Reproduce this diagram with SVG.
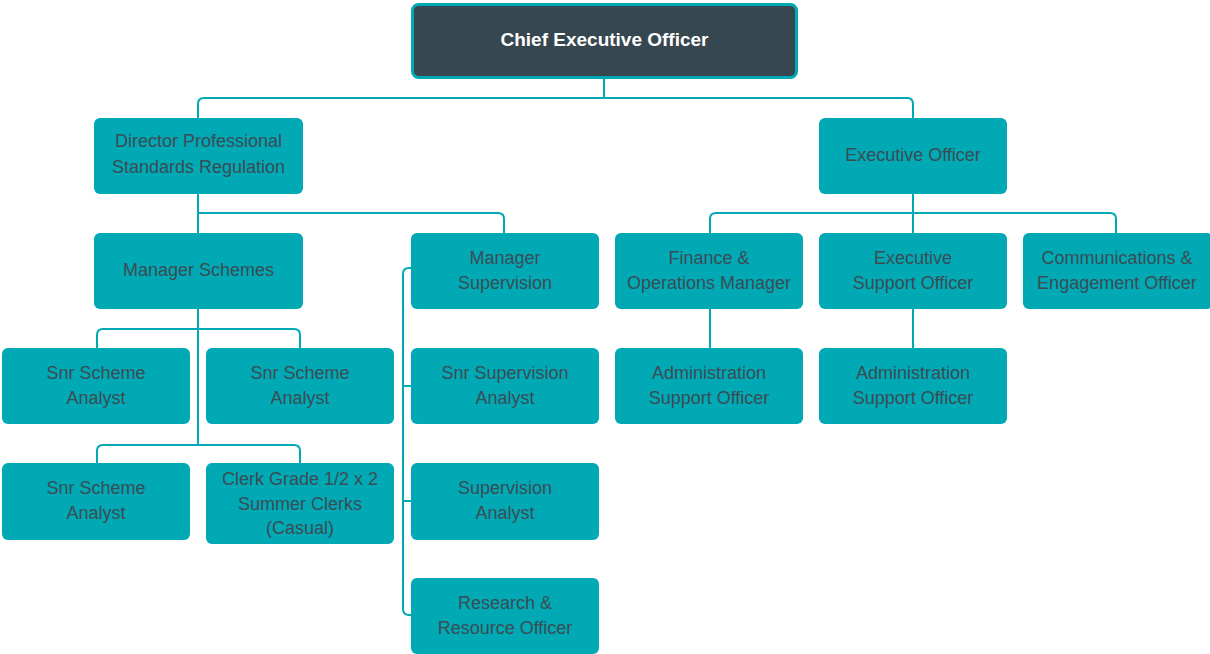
<svg xmlns="http://www.w3.org/2000/svg" width="1210" height="654" viewBox="0 0 1210 654">
<style>
.box{fill:#00a9b4}
.ceo{fill:#37474f;stroke:#00a9b4;stroke-width:3}
.t{font-family:"Liberation Sans",Arial,sans-serif;font-size:18px;fill:#3b4c54;text-anchor:middle}
.tc{font-family:"Liberation Sans",Arial,sans-serif;font-size:19px;font-weight:bold;fill:#ffffff;text-anchor:middle}
.c{fill:none;stroke:#00a9b4;stroke-width:2}
</style>
<rect width="1210" height="654" fill="#ffffff"/>
<g id="connectors">
<path class="c" d="M604,79 V98"/>
<path class="c" d="M198,118 V104 Q198,98 204,98 H907 Q913,98 913,104 V118"/>
<path class="c" d="M198,194 V233"/>
<path class="c" d="M198,213 H498 Q504,213 504,219 V233"/>
<path class="c" d="M913,194 V233"/>
<path class="c" d="M710,233 V219 Q710,213 716,213 H1110 Q1116,213 1116,219 V233"/>
<path class="c" d="M198,309 V445"/>
<path class="c" d="M97,348 V335 Q97,329 103,329 H294 Q300,329 300,335 V348"/>
<path class="c" d="M97,463 V451 Q97,445 103,445 H294 Q300,445 300,451 V463"/>
<path class="c" d="M411,268 H409 Q403,268 403,274 V609 Q403,615 409,615 H411"/>
<path class="c" d="M403,386 H411 M403,501 H411"/>
<path class="c" d="M710,309 V348"/>
<path class="c" d="M913,309 V348"/>
</g>
<g id="ceo"><rect class="ceo" x="412.5" y="4.5" width="384" height="73" rx="6"/><text class="tc" x="604.5" y="46">Chief Executive Officer</text></g>
<g id="director"><rect class="box" x="94" y="118" width="209" height="76" rx="6"/><text class="t" x="198.5" y="147">Director Professional</text><text class="t" x="198.5" y="173">Standards Regulation</text></g>
<g id="exec-officer"><rect class="box" x="819" y="118" width="188" height="76" rx="6"/><text class="t" x="913" y="161">Executive Officer</text></g>
<g id="manager-schemes"><rect class="box" x="94" y="233" width="209" height="76" rx="6"/><text class="t" x="198.5" y="276">Manager Schemes</text></g>
<g id="manager-supervision"><rect class="box" x="411" y="233" width="188" height="76" rx="6"/><text class="t" x="505" y="264">Manager</text><text class="t" x="505" y="289">Supervision</text></g>
<g id="finance"><rect class="box" x="615" y="233" width="188" height="76" rx="6"/><text class="t" x="709" y="264">Finance &amp;</text><text class="t" x="709" y="289">Operations Manager</text></g>
<g id="exec-support"><rect class="box" x="819" y="233" width="188" height="76" rx="6"/><text class="t" x="913" y="264">Executive</text><text class="t" x="913" y="289">Support Officer</text></g>
<g id="comms"><rect class="box" x="1023" y="233" width="190" height="76" rx="6"/><text class="t" x="1117" y="264">Communications &amp;</text><text class="t" x="1117" y="289">Engagement Officer</text></g>
<g id="snr-scheme-1"><rect class="box" x="2" y="348" width="188" height="76" rx="6"/><text class="t" x="96" y="379">Snr Scheme</text><text class="t" x="96" y="404">Analyst</text></g>
<g id="snr-scheme-2"><rect class="box" x="206" y="348" width="188" height="76" rx="6"/><text class="t" x="300" y="379">Snr Scheme</text><text class="t" x="300" y="404">Analyst</text></g>
<g id="snr-supervision"><rect class="box" x="411" y="348" width="188" height="76" rx="6"/><text class="t" x="505" y="379">Snr Supervision</text><text class="t" x="505" y="404">Analyst</text></g>
<g id="admin-1"><rect class="box" x="615" y="348" width="188" height="76" rx="6"/><text class="t" x="709" y="379">Administration</text><text class="t" x="709" y="404">Support Officer</text></g>
<g id="admin-2"><rect class="box" x="819" y="348" width="188" height="76" rx="6"/><text class="t" x="913" y="379">Administration</text><text class="t" x="913" y="404">Support Officer</text></g>
<g id="snr-scheme-3"><rect class="box" x="2" y="463" width="188" height="77" rx="6"/><text class="t" x="96" y="494">Snr Scheme</text><text class="t" x="96" y="519">Analyst</text></g>
<g id="clerk"><rect class="box" x="206" y="463" width="188" height="81" rx="6"/><text class="t" x="300" y="485">Clerk Grade 1/2 x 2</text><text class="t" x="300" y="510">Summer Clerks</text><text class="t" x="300" y="534">(Casual)</text></g>
<g id="supervision-analyst"><rect class="box" x="411" y="463" width="188" height="77" rx="6"/><text class="t" x="505" y="494">Supervision</text><text class="t" x="505" y="519">Analyst</text></g>
<g id="research"><rect class="box" x="411" y="578" width="188" height="76" rx="6"/><text class="t" x="505" y="609">Research &amp;</text><text class="t" x="505" y="634">Resource Officer</text></g>
</svg>
